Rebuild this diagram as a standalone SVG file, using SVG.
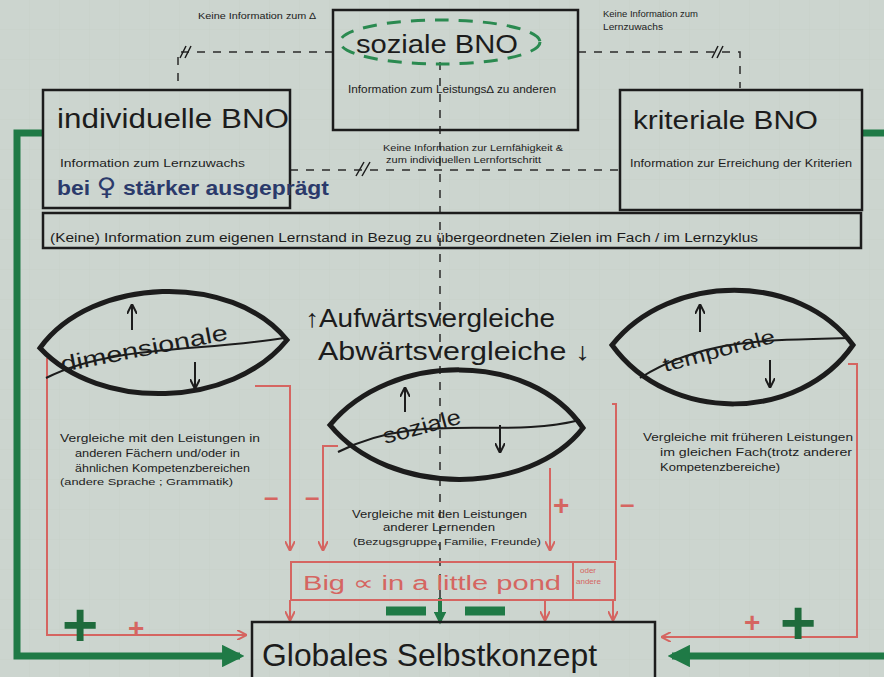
<svg xmlns="http://www.w3.org/2000/svg" width="884" height="677" viewBox="0 0 884 677">
<defs>
<style>
.hw{font-family:"Liberation Sans","DejaVu Sans",sans-serif;fill:#1c1c1c}
.box{fill:none;stroke:#1c1c1c;stroke-width:2.5}
.dash{fill:none;stroke:#2a2a2a;stroke-width:1.5;stroke-dasharray:8 8}
.red{fill:none;stroke:#d56561;stroke-width:2}
.redt{font-family:"Liberation Sans",sans-serif;fill:#d56561}
.grn{fill:none;stroke:#1f7a46;stroke-width:7}
.lens{fill:none;stroke:#1c1c1c;stroke-width:5}
.arr{fill:none;stroke:#1c1c1c;stroke-width:2}
</style>
<marker id="ra" viewBox="0 0 10 10" refX="9" refY="5" markerWidth="5" markerHeight="5" orient="auto"><path d="M0,0 L10,5 L0,10" fill="none" stroke="#d56561" stroke-width="2"/></marker>
<marker id="ga" viewBox="0 0 10 10" refX="8" refY="5" markerWidth="3.2" markerHeight="3.2" orient="auto"><path d="M0,0 L10,5 L0,10 Z" fill="#1f7a46"/></marker>
<marker id="ka" viewBox="0 0 10 10" refX="9" refY="5" markerWidth="5" markerHeight="5" orient="auto"><path d="M0,0 L10,5 L0,10" fill="none" stroke="#1c1c1c" stroke-width="2"/></marker>
<pattern id="grid" width="30" height="30" patternUnits="userSpaceOnUse"><path d="M30,0 V30 M0,30 H30" fill="none" stroke="#c2ccc5" stroke-width="1"/></pattern>
</defs>
<rect width="884" height="677" fill="#ccd5cf"/>
<rect width="884" height="677" fill="url(#grid)" opacity="0.5"/>

<g id="connectors">
<path class="dash" d="M333,52 H178 V88"/>
<path d="M180,58 l6,-12 M185,58 l6,-12" stroke="#1c1c1c" stroke-width="1.5"/>
<path class="dash" d="M578,52 H740 V88"/>
<path d="M712,58 l6,-12 M717,58 l6,-12" stroke="#1c1c1c" stroke-width="1.5"/>
<path class="dash" d="M290,170 H620"/>
<path d="M356,176 l8,-14 M362,176 l8,-14" stroke="#1c1c1c" stroke-width="1.5"/>
<path class="dash" d="M440,62 V598" stroke-dasharray="10 12"/>
<path class="grn" d="M43,133 H17 V656 H240" marker-end="url(#ga)"/>
<path class="grn" d="M862,133 H884"/>
<path class="grn" d="M884,656 H672" marker-end="url(#ga)"/>
<path class="red" d="M47,358 V635 H246" marker-end="url(#ra)"/>
<path class="red" d="M255,386 H290 V550" marker-end="url(#ra)"/>
<path class="red" d="M338,446 H323 V550" marker-end="url(#ra)"/>
<path class="red" d="M550,468 V550" marker-end="url(#ra)"/>
<path class="red" d="M612,404 H616 V560"/>
<path class="red" d="M848,364 H857 V637 H662" marker-end="url(#ra)"/>
<path class="red" d="M290,600 V620" marker-end="url(#ra)"/>
<path class="red" d="M545,600 V620" marker-end="url(#ra)"/>
<path class="red" d="M613,600 V620" marker-end="url(#ra)"/>
<path d="M440,598 V622" stroke="#1f7a46" stroke-width="4" marker-end="url(#ga)"/>
<path d="M386,611 H426 M465,611 H505" stroke="#1f7a46" stroke-width="9"/>
</g>

<g id="soziale-bno">
<rect class="box" x="333" y="10" width="245" height="120"/>
<ellipse cx="440" cy="42" rx="100" ry="22" fill="none" stroke="#2a8a50" stroke-width="3" stroke-dasharray="14 10"/>
<text class="hw" x="356" y="53" font-size="26" textLength="162" lengthAdjust="spacingAndGlyphs">soziale  BNO</text>
<text class="hw" x="348" y="93" font-size="10.5" textLength="208" lengthAdjust="spacingAndGlyphs">Information zum Leistungs∆ zu anderen</text>
</g>
<text class="hw" x="198" y="19" font-size="9" textLength="118" lengthAdjust="spacingAndGlyphs">Keine Information zum ∆</text>
<text class="hw" x="603" y="17" font-size="8.5" textLength="95" lengthAdjust="spacingAndGlyphs">Keine Information zum</text>
<text class="hw" x="603" y="30" font-size="8.5" textLength="60" lengthAdjust="spacingAndGlyphs">Lernzuwachs</text>
<text class="hw" x="383" y="151" font-size="8.5" textLength="180" lengthAdjust="spacingAndGlyphs">Keine Information zur Lernfähigkeit &amp;</text>
<text class="hw" x="386" y="163" font-size="8.5" textLength="155" lengthAdjust="spacingAndGlyphs">zum individuellen Lernfortschritt</text>

<g id="individuelle-bno">
<rect class="box" x="43" y="90" width="247" height="118"/>
<text class="hw" x="57" y="128" font-size="27" textLength="232" lengthAdjust="spacingAndGlyphs">individuelle  BNO</text>
<text class="hw" x="60" y="167" font-size="10.5" textLength="185" lengthAdjust="spacingAndGlyphs">Information zum Lernzuwachs</text>
<text x="57" y="195" font-family="Liberation Sans,sans-serif" font-weight="bold" font-size="20" fill="#2b3a6b" textLength="272" lengthAdjust="spacingAndGlyphs">bei <tspan font-family="DejaVu Sans,sans-serif" font-size="24">♀</tspan> stärker ausgeprägt</text>
</g>

<g id="kriteriale-bno">
<rect class="box" x="620" y="90" width="242" height="120"/>
<text class="hw" x="633" y="129" font-size="26" textLength="185" lengthAdjust="spacingAndGlyphs">kriteriale  BNO</text>
<text class="hw" x="630" y="167" font-size="10" textLength="222" lengthAdjust="spacingAndGlyphs">Information zur Erreichung der Kriterien</text>
</g>

<g id="lernstand">
<rect class="box" x="43" y="213" width="818" height="35"/>
<text class="hw" x="50" y="242" font-size="12" textLength="708" lengthAdjust="spacingAndGlyphs">(Keine) Information zum eigenen Lernstand in Bezug zu übergeordneten Zielen im Fach / im Lernzyklus</text>
</g>

<g id="dimensionale">
<path class="lens" d="M40,348 C92,276 232,272 287,340 C232,408 100,412 40,348 Z"/>
<path d="M46,378 C110,345 200,352 284,338" fill="none" stroke="#1c1c1c" stroke-width="2"/>
<text class="hw" x="62" y="372" font-size="22" transform="rotate(-11 62 372)" textLength="170" lengthAdjust="spacingAndGlyphs">dimensionale</text>
<path class="arr" d="M132,330 V305" marker-end="url(#ka)"/>
<path class="arr" d="M195,362 V388" marker-end="url(#ka)"/>
</g>

<g id="aufwaerts">
<text class="hw" x="305" y="327" font-size="25" textLength="250" lengthAdjust="spacingAndGlyphs">↑Aufwärtsvergleiche</text>
<text class="hw" x="318" y="360" font-size="25" textLength="272" lengthAdjust="spacingAndGlyphs">Abwärtsvergleiche ↓</text>
</g>

<g id="soziale">
<path class="lens" d="M330,425 C390,352 530,350 583,428 C530,496 390,498 330,425 Z"/>
<path d="M338,452 C420,410 500,440 580,420" fill="none" stroke="#1c1c1c" stroke-width="2"/>
<text class="hw" x="385" y="444" font-size="22" transform="rotate(-15 385 444)" textLength="80" lengthAdjust="spacingAndGlyphs">soziale</text>
<path class="arr" d="M405,412 V388" marker-end="url(#ka)"/>
<path class="arr" d="M500,425 V452" marker-end="url(#ka)"/>
</g>

<g id="temporale">
<path class="lens" d="M612,345 C670,272 800,272 853,345 C800,422 670,425 612,345 Z"/>
<path d="M640,378 C700,340 760,340 850,338" fill="none" stroke="#1c1c1c" stroke-width="2"/>
<text class="hw" x="665" y="372" font-size="20" transform="rotate(-15 665 372)" textLength="115" lengthAdjust="spacingAndGlyphs">temporale</text>
<path class="arr" d="M700,332 V305" marker-end="url(#ka)"/>
<path class="arr" d="M770,360 V387" marker-end="url(#ka)"/>
</g>

<g id="vergleich-texte">
<text class="hw" x="60" y="442" font-size="10.5" textLength="200" lengthAdjust="spacingAndGlyphs">Vergleiche mit den Leistungen in</text>
<text class="hw" x="75" y="457" font-size="10.5" textLength="165" lengthAdjust="spacingAndGlyphs">anderen Fächern und/oder in</text>
<text class="hw" x="75" y="472" font-size="10.5" textLength="175" lengthAdjust="spacingAndGlyphs">ähnlichen Kompetenzbereichen</text>
<text class="hw" x="60" y="485" font-size="9" textLength="173" lengthAdjust="spacingAndGlyphs">(andere Sprache ; Grammatik)</text>
<text class="hw" x="643" y="441" font-size="10.5" textLength="210" lengthAdjust="spacingAndGlyphs">Vergleiche mit früheren Leistungen</text>
<text class="hw" x="660" y="456" font-size="10.5" textLength="192" lengthAdjust="spacingAndGlyphs">im gleichen Fach(trotz anderer</text>
<text class="hw" x="660" y="471" font-size="10.5" textLength="120" lengthAdjust="spacingAndGlyphs">Kompetenzbereiche)</text>
<text class="hw" x="352" y="518" font-size="10.5" textLength="175" lengthAdjust="spacingAndGlyphs">Vergleiche mit den Leistungen</text>
<text class="hw" x="383" y="531" font-size="10.5" textLength="112" lengthAdjust="spacingAndGlyphs">anderer Lernenden</text>
<text class="hw" x="353" y="545" font-size="9.5" textLength="188" lengthAdjust="spacingAndGlyphs">(Bezugsgruppe, Familie, Freunde)</text>
</g>

<g id="vorzeichen">
<text class="redt" x="264" y="506" font-size="26" font-weight="bold">–</text>
<text class="redt" x="305" y="506" font-size="26" font-weight="bold">–</text>
<text class="redt" x="553" y="515" font-size="28" font-weight="bold">+</text>
<text class="redt" x="620" y="513" font-size="26" font-weight="bold">–</text>
<text class="redt" x="128" y="638" font-size="28" font-weight="bold">+</text>
<text class="redt" x="744" y="632" font-size="28" font-weight="bold">+</text>
<text x="62" y="646" font-family="Liberation Sans,sans-serif" font-weight="bold" font-size="62" fill="#1f6b3c">+</text>
<text x="780" y="644" font-family="Liberation Sans,sans-serif" font-weight="bold" font-size="62" fill="#1f6b3c">+</text>
</g>

<g id="big-fish">
<rect x="291" y="562" width="324" height="38" fill="none" stroke="#d56561" stroke-width="2"/>
<line x1="573" y1="562" x2="573" y2="600" stroke="#d56561" stroke-width="2"/>
<text class="redt" x="303" y="590" font-size="20" textLength="258" lengthAdjust="spacingAndGlyphs">Big ∝ in a little pond</text>
<text class="redt" x="580" y="573" font-size="8">oder</text>
<text class="redt" x="576" y="584" font-size="8">andere</text>
</g>

<g id="globales-selbstkonzept">
<rect class="box" x="252" y="622" width="403" height="60"/>
<text class="hw" x="262" y="666" font-size="32" textLength="335" lengthAdjust="spacingAndGlyphs">Globales Selbstkonzept</text>
</g>
</svg>
